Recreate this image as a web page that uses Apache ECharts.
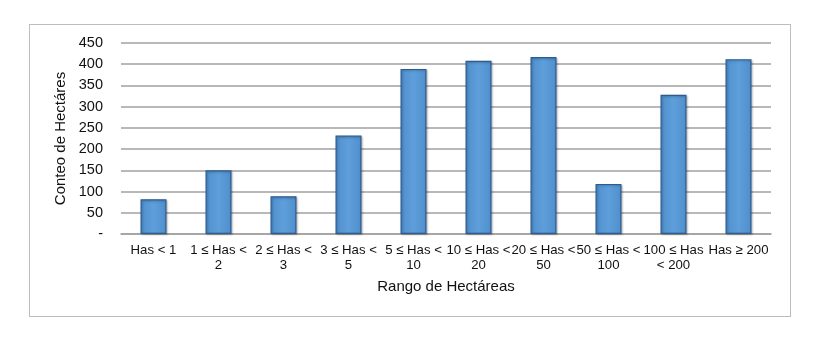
<!DOCTYPE html>
<html><head><meta charset="utf-8">
<script src="https://cdn.jsdelivr.net/npm/echarts@6/dist/echarts.min.js"></script>
<style>html,body{margin:0;padding:0;background:#fff}#c{width:815px;height:341px}
#box{position:absolute;left:29px;top:24px;width:762px;height:293px;border:1.5px solid #bdbdbd;box-sizing:border-box;pointer-events:none}</style>
</head><body><div id="c"></div><div id="box"></div>
<script>
const categories = ["Has < 1","1 ≤ Has <\n2","2 ≤ Has <\n3","3 ≤ Has <\n5","5 ≤ Has <\n10","10 ≤ Has <\n20","20 ≤ Has <\n50","50 ≤ Has <\n100","100 ≤ Has\n< 200","Has ≥ 200"];
const values = [82, 150, 89, 232, 389, 408, 417, 118, 328, 412];
const yTicks = [0, 50, 100, 150, 200, 250, 300, 350, 400, 450];
const xName = "Rango de Hectáreas";
const yName = "Conteo de Hectáres";

const chart = echarts.init(document.getElementById('c'), null, {renderer:'canvas'});
chart.setOption({
  animation:false,
  grid:{left:121, right:44, top:43, bottom:107, containLabel:false},
  xAxis:{type:'category', data:categories,
    name:xName, nameLocation:'middle', nameGap:45,
    nameTextStyle:{fontFamily:'Liberation Sans', fontSize:15, color:'#111'},
    axisLine:{show:true, lineStyle:{color:'#a0a0a0', width:1.5}},
    axisTick:{show:false},
    axisLabel:{interval:0, fontFamily:'Liberation Sans', fontSize:13.2, color:'#111', lineHeight:15, margin:9}
  },
  yAxis:{type:'value', min:yTicks[0], max:yTicks[yTicks.length-1], interval:50,
    name:yName, nameLocation:'middle', nameGap:50,
    nameTextStyle:{fontFamily:'Liberation Sans', fontSize:15, color:'#111'},
    axisLine:{show:false}, axisTick:{show:false},
    axisLabel:{fontFamily:'Liberation Sans', fontSize:14.5, color:'#111', margin:18,
      formatter:v=> v===0 ? '-' : String(v)},
    splitLine:{lineStyle:{color:'#a0a0a0', width:1.5}}
  },
  series:[{type:'bar', data:values, barWidth:26,
    itemStyle:{color:new echarts.graphic.LinearGradient(0,0,1,0,[
      {offset:0,color:'#4f8fcc'},{offset:0.5,color:'#5d9edb'},{offset:1,color:'#4f8fcc'}]),
      borderColor:'#2c5d92', borderWidth:1.2,
      shadowColor:'rgba(0,0,0,0.25)', shadowBlur:2, shadowOffsetX:1, shadowOffsetY:1}
  }]
});
</script></body></html>
